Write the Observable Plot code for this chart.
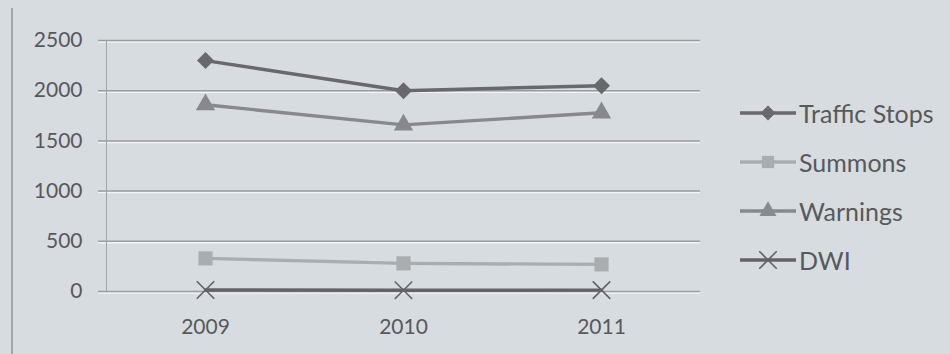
<!DOCTYPE html>
<html>
<head>
<meta charset="utf-8">
<script src="https://cdn.jsdelivr.net/npm/d3@7"></script>
<script src="https://cdn.jsdelivr.net/npm/@observablehq/plot@0.6"></script>
<style>
  html, body { margin: 0; padding: 0; background: #d7dce0; }
  #wrap { position: relative; width: 950px; height: 354px; background: #d7dce0; overflow: hidden; font-family: Lato, "Open Sans", sans-serif; }
  #border { position: absolute; left: 11px; top: 8px; width: 2px; height: 346px; background: #a4a8ab; }
  #chart { position: absolute; left: 0; top: 0; }
  #legend { position: absolute; left: 740px; top: 88px; }
  .row { display: flex; align-items: center; height: 49.2px; color: #58595b; font-size: 25px; }
  .row svg { margin-right: 3px; }
</style>
</head>
<body>
<div id="wrap">
  <div id="border"></div>
  <div id="chart"></div>
  <div id="legend"></div>
</div>
<script>
const years = [2009, 2010, 2011];
const seriesNames = ["Traffic Stops", "Summons", "Warnings", "DWI"];
const trafficStops = [2300, 2000, 2050];
const summons = [330, 280, 270];
const warnings = [1860, 1660, 1780];
const dwi = [15, 12, 14];
const yTicks = [0, 500, 1000, 1500, 2000, 2500];

const colors = {"Traffic Stops": "#69696d", "Summons": "#aaadb0", "Warnings": "#88898d", "DWI": "#636367"};
const symbols = {"Traffic Stops": "square", "Summons": "square", "Warnings": "triangle", "DWI": "times"};
const rotations = {"Traffic Stops": 45, "Summons": 0, "Warnings": 0, "DWI": 0};
const radii = {"Traffic Stops": 6.8, "Summons": 8, "Warnings": 7.2, "DWI": 8};

const valuesBySeries = [trafficStops, summons, warnings, dwi];
const data = [];
seriesNames.forEach((s, i) => years.forEach((y, j) => data.push({series: s, year: String(y), value: valuesBySeries[i][j]})));

const marks = [
  Plot.ruleY(yTicks, {stroke: "#f2f4f5", strokeWidth: 1.5, dy: 1.5, insetLeft: -8}),
  Plot.ruleY(yTicks, {stroke: "#9a9ea1", strokeWidth: 1.5, insetLeft: -8}),
  Plot.axisY({ticks: yTicks, tickSize: 0, tickPadding: 24, tickFormat: d => String(d), fontSize: 21, fill: "#58595b"}),
  Plot.axisX({tickSize: 0, tickPadding: 28, fontSize: 21, fill: "#58595b", label: null})
];
seriesNames.forEach(s => {
  const d = data.filter(r => r.series === s);
  marks.push(Plot.line(d, {x: "year", y: "value", stroke: colors[s], strokeWidth: 3.4}));
});
seriesNames.forEach(s => {
  const d = data.filter(r => r.series === s);
  if (symbols[s] === "times") {
    marks.push(Plot.dot(d, {x: "year", y: "value", symbol: "times", r: radii[s], stroke: colors[s], strokeWidth: 1.6}));
  } else {
    marks.push(Plot.dot(d, {x: "year", y: "value", symbol: symbols[s], rotate: rotations[s], r: radii[s], fill: colors[s], stroke: "none"}));
  }
});

const chart = Plot.plot({
  width: 720,
  height: 354,
  marginTop: 40,
  marginBottom: 63,
  marginLeft: 106,
  marginRight: 20,
  style: {background: "transparent", fontFamily: "Lato, 'Open Sans', sans-serif", color: "#58595b"},
  x: {type: "point", domain: years.map(String), padding: 0.5, label: null},
  y: {domain: [0, 2500], label: null},
  marks: [
    ...marks,
    Plot.frame({anchor: "left", stroke: "#a0a4a7", strokeWidth: 1})
  ]
});
document.getElementById("chart").appendChild(chart);

// Legend
const legend = d3.select("#legend");
const legendSizes = {"Traffic Stops": 112, "Summons": 150, "Warnings": 125, "DWI": 200};
seriesNames.forEach(s => {
  const row = legend.append("div").attr("class", "row");
  const svg = row.append("svg").attr("width", 56).attr("height", 20);
  svg.append("line").attr("x1", 0).attr("x2", 56).attr("y1", 10).attr("y2", 10)
    .attr("stroke", colors[s]).attr("stroke-width", 3.4);
  const type = {square: d3.symbolSquare, triangle: d3.symbolTriangle, times: d3.symbolTimes}[symbols[s]];
  const sym = d3.symbol().type(type).size(legendSizes[s]);
  const p = svg.append("path").attr("d", sym()).attr("transform", `translate(28,10) rotate(${rotations[s]})`);
  if (symbols[s] === "times") p.attr("fill", "none").attr("stroke", colors[s]).attr("stroke-width", 1.6);
  else p.attr("fill", colors[s]);
  row.append("span").text(s);
});
</script>
</body>
</html>
